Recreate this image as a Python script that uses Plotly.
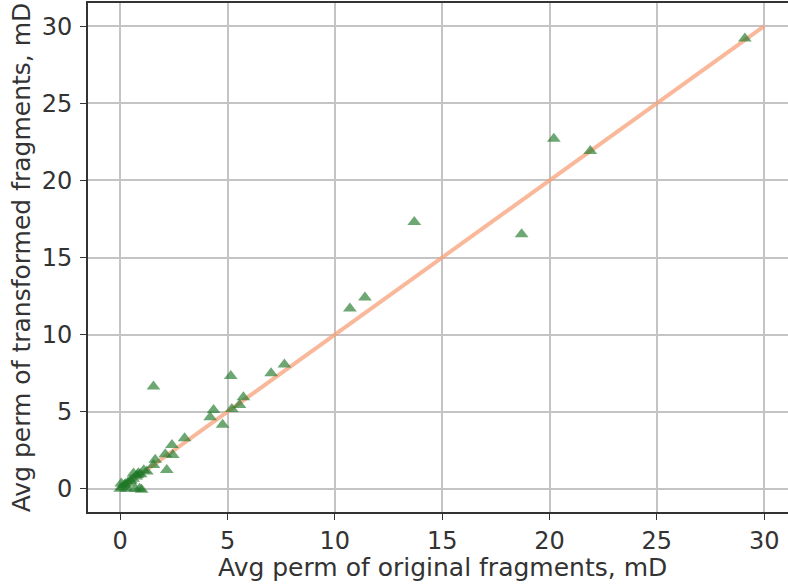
import plotly.graph_objects as go

orig_perm = [29.1, 20.2, 21.9, 13.7, 18.7, 11.4, 10.7,
             7.65, 7.03, 5.15, 5.74, 5.56, 5.2, 4.35, 4.19, 4.77, 3.0,
             2.41, 2.45, 2.1, 2.17, 1.63, 1.55, 1.24, 1.55, 0.85, 0.62,
             1.0, 0.9, 0.75, 0.5, 0.35, 0.2, 0.05, 0.0, 0.1, 0.3, 0.45,
             0.6, 0.8, 0.95, 0.25, 0.7, 1.1]
trans_perm = [29.2, 22.7, 21.9, 17.3, 16.5, 12.4, 11.7,
              8.06, 7.5, 7.32, 5.94, 5.44, 5.17, 5.12, 4.64, 4.15, 3.28,
              2.85, 2.2, 2.25, 1.23, 1.88, 1.55, 1.12, 6.63, 1.01, 1.0,
              -0.06, 0.0, 0.8, 0.55, 0.4, 0.25, 0.35, 0.0, 0.1, 0.0, 0.5,
              0.65, 0.9, 0.95, 0.3, 0.0, 1.2]
line_x = [0, 30]
line_y = [0, 30]
ticks = [0, 5, 10, 15, 20, 25, 30]

fig = go.Figure()
fig.add_trace(go.Scatter(x=line_x, y=line_y, mode="lines",
                         line=dict(color="rgba(248,160,122,0.75)", width=4),
                         showlegend=False))
fig.add_trace(go.Scatter(x=orig_perm, y=trans_perm, mode="markers",
                         marker=dict(symbol="triangle-up", size=12,
                                     color="rgba(30,120,40,0.65)",
                                     line=dict(width=0)),
                         showlegend=False))

axis_common = dict(showgrid=True, gridcolor="#c4c4c4", gridwidth=1.6,
                   showline=True, linecolor="#333333", linewidth=1.6,
                   ticks="outside", ticklen=6, tickcolor="#333333", tickwidth=1.3,
                   zeroline=False, tickvals=ticks, automargin=False,
                   tickfont=dict(family="DejaVu Sans", size=24, color="#333333"))

fig.update_layout(
    width=788, height=586,
    margin=dict(l=88, r=0, t=3, b=74),
    paper_bgcolor="white", plot_bgcolor="white",
    xaxis=dict(range=[-1.5, 31.11], mirror=True, ticklabelstandoff=0,
               **axis_common),
    yaxis=dict(range=[-1.5, 31.5], mirror=False, ticklabelstandoff=3,
               title=dict(text="Avg perm of transformed fragments, mD",
                          font=dict(family="DejaVu Sans", size=25, color="#333333"),
                          standoff=4),
               **axis_common),
    annotations=[dict(text="Avg perm of original fragments, mD",
                      xref="x", x=15.0, yref="paper", y=-0.110,
                      xanchor="center", yanchor="middle", showarrow=False,
                      font=dict(family="DejaVu Sans", size=25, color="#333333"))],
)

fig.write_html("out.html", config={"displayModeBar": False},
               post_script="document.body.style.margin='0';document.body.style.overflow='hidden';")
